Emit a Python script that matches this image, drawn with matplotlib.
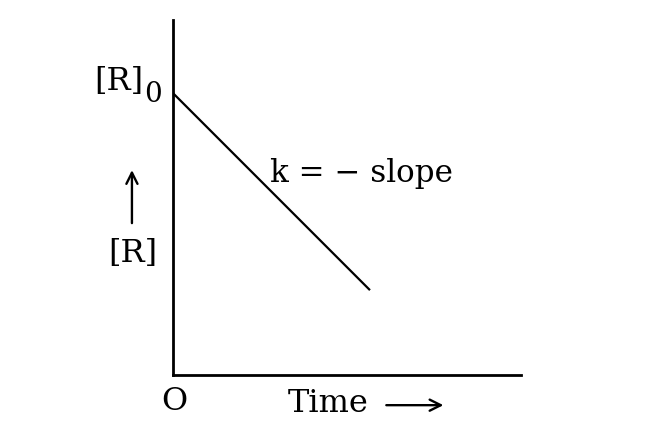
import matplotlib.pyplot as plt

# zero order reaction: [R] falls linearly with time
time = [0.0, 5.66]
conc = [0.794, 0.239]

x_lim = (0, 10)
y_lim = (0, 1)

plt.rcParams['font.family'] = ['DejaVu Serif']

fig = plt.figure(figsize=(6.64, 4.45), dpi=100)
ax = fig.add_axes([173/664, 70/445, 348/664, 355/445])

ax.plot(time, conc, color='black', lw=1.6, solid_capstyle='butt')

ax.set_xlim(*x_lim)
ax.set_ylim(*y_lim)
for s in ['top', 'right']:
    ax.spines[s].set_visible(False)
for s in ['left', 'bottom']:
    ax.spines[s].set_linewidth(2.0)
ax.set_xticks([])
ax.set_yticks([])

fs = 23
ax.text(-0.84, 0.826, '[R]', fontsize=fs, ha='right', va='center', clip_on=False)
ax.text(-0.82, 0.789, '0', fontsize=20, ha='left', va='center', clip_on=False)
ax.text(2.8, 0.569, 'k = \u2212 slope', fontsize=22.3, ha='left', va='center')
ax.text(-1.16, 0.342, '[R]', fontsize=fs, ha='center', va='center', clip_on=False)
ax.annotate('', xy=(-1.18, 0.585), xytext=(-1.18, 0.42),
            arrowprops=dict(arrowstyle='->', lw=1.7, color='black', mutation_scale=20),
            annotation_clip=False)

ax.text(0.05, -0.075, 'O', fontsize=fs, ha='center', va='center', clip_on=False)
ax.text(3.3, -0.08, 'Time', fontsize=fs, ha='left', va='center', clip_on=False)
ax.annotate('', xy=(7.85, -0.085), xytext=(6.05, -0.085),
            arrowprops=dict(arrowstyle='->', lw=1.7, color='black', mutation_scale=20),
            annotation_clip=False)

fig.savefig('out.png', dpi=100)
